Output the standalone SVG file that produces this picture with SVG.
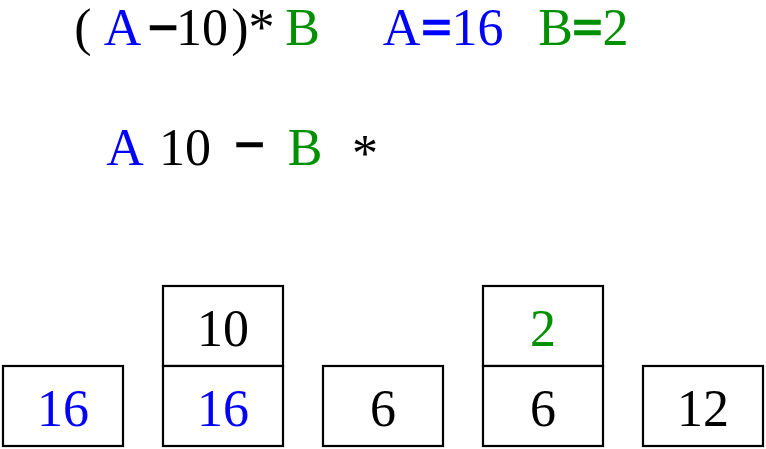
<svg xmlns="http://www.w3.org/2000/svg" width="766" height="449" viewBox="0 0 766 449">
<style>
text{font-family:"Liberation Serif","Times New Roman",serif;font-size:52px;text-anchor:middle;fill:#000}
.a{fill:#0000ff}
.b{fill:#009000}
.op{stroke-width:2.4px}
.k .op{stroke:#000}
.a.op,.a .op{stroke:#0000ff}
.b.op,.b .op{stroke:#009000}
rect{fill:#fff;stroke:#000;stroke-width:2.2}
</style>
<g id="expression">
<text y="45"><tspan x="83">(</tspan><tspan x="122.5" class="a">A</tspan><tspan x="163" class="op" stroke="#000">−</tspan><tspan x="202">10</tspan><tspan x="240">)</tspan><tspan x="261.5">*</tspan><tspan x="302.5" class="b">B</tspan></text>
</g>
<g id="values">
<text y="45" class="a"><tspan x="401.5">A</tspan><tspan x="436.5" class="op" stroke="#0000ff">=</tspan><tspan x="477.5">16</tspan></text>
<text y="45" class="b"><tspan x="555.5">B</tspan><tspan x="587.5" class="op" stroke="#009000">=</tspan><tspan x="615.5">2</tspan></text>
</g>
<g id="postfix">
<text y="165"><tspan x="125" class="a">A</tspan><tspan x="185">10</tspan><tspan x="249.5" y="162" class="op" stroke="#000">−</tspan><tspan x="305" y="165" class="b">B</tspan><tspan x="365" y="171">*</tspan></text>
</g>
<g id="stack1">
<rect x="3" y="366" width="120" height="80"/>
<text x="63" y="426" class="a">16</text>
</g>
<g id="stack2">
<rect x="163" y="286" width="120" height="80"/>
<text x="223" y="346">10</text>
<rect x="163" y="366" width="120" height="80"/>
<text x="223" y="426" class="a">16</text>
</g>
<g id="stack3">
<rect x="323" y="366" width="120" height="80"/>
<text x="383" y="426">6</text>
</g>
<g id="stack4">
<rect x="483" y="286" width="120" height="80"/>
<text x="543" y="346" class="b">2</text>
<rect x="483" y="366" width="120" height="80"/>
<text x="543" y="426">6</text>
</g>
<g id="stack5">
<rect x="643" y="366" width="120" height="80"/>
<text x="703" y="426">12</text>
</g>
<g id="connectors"></g>
</svg>
